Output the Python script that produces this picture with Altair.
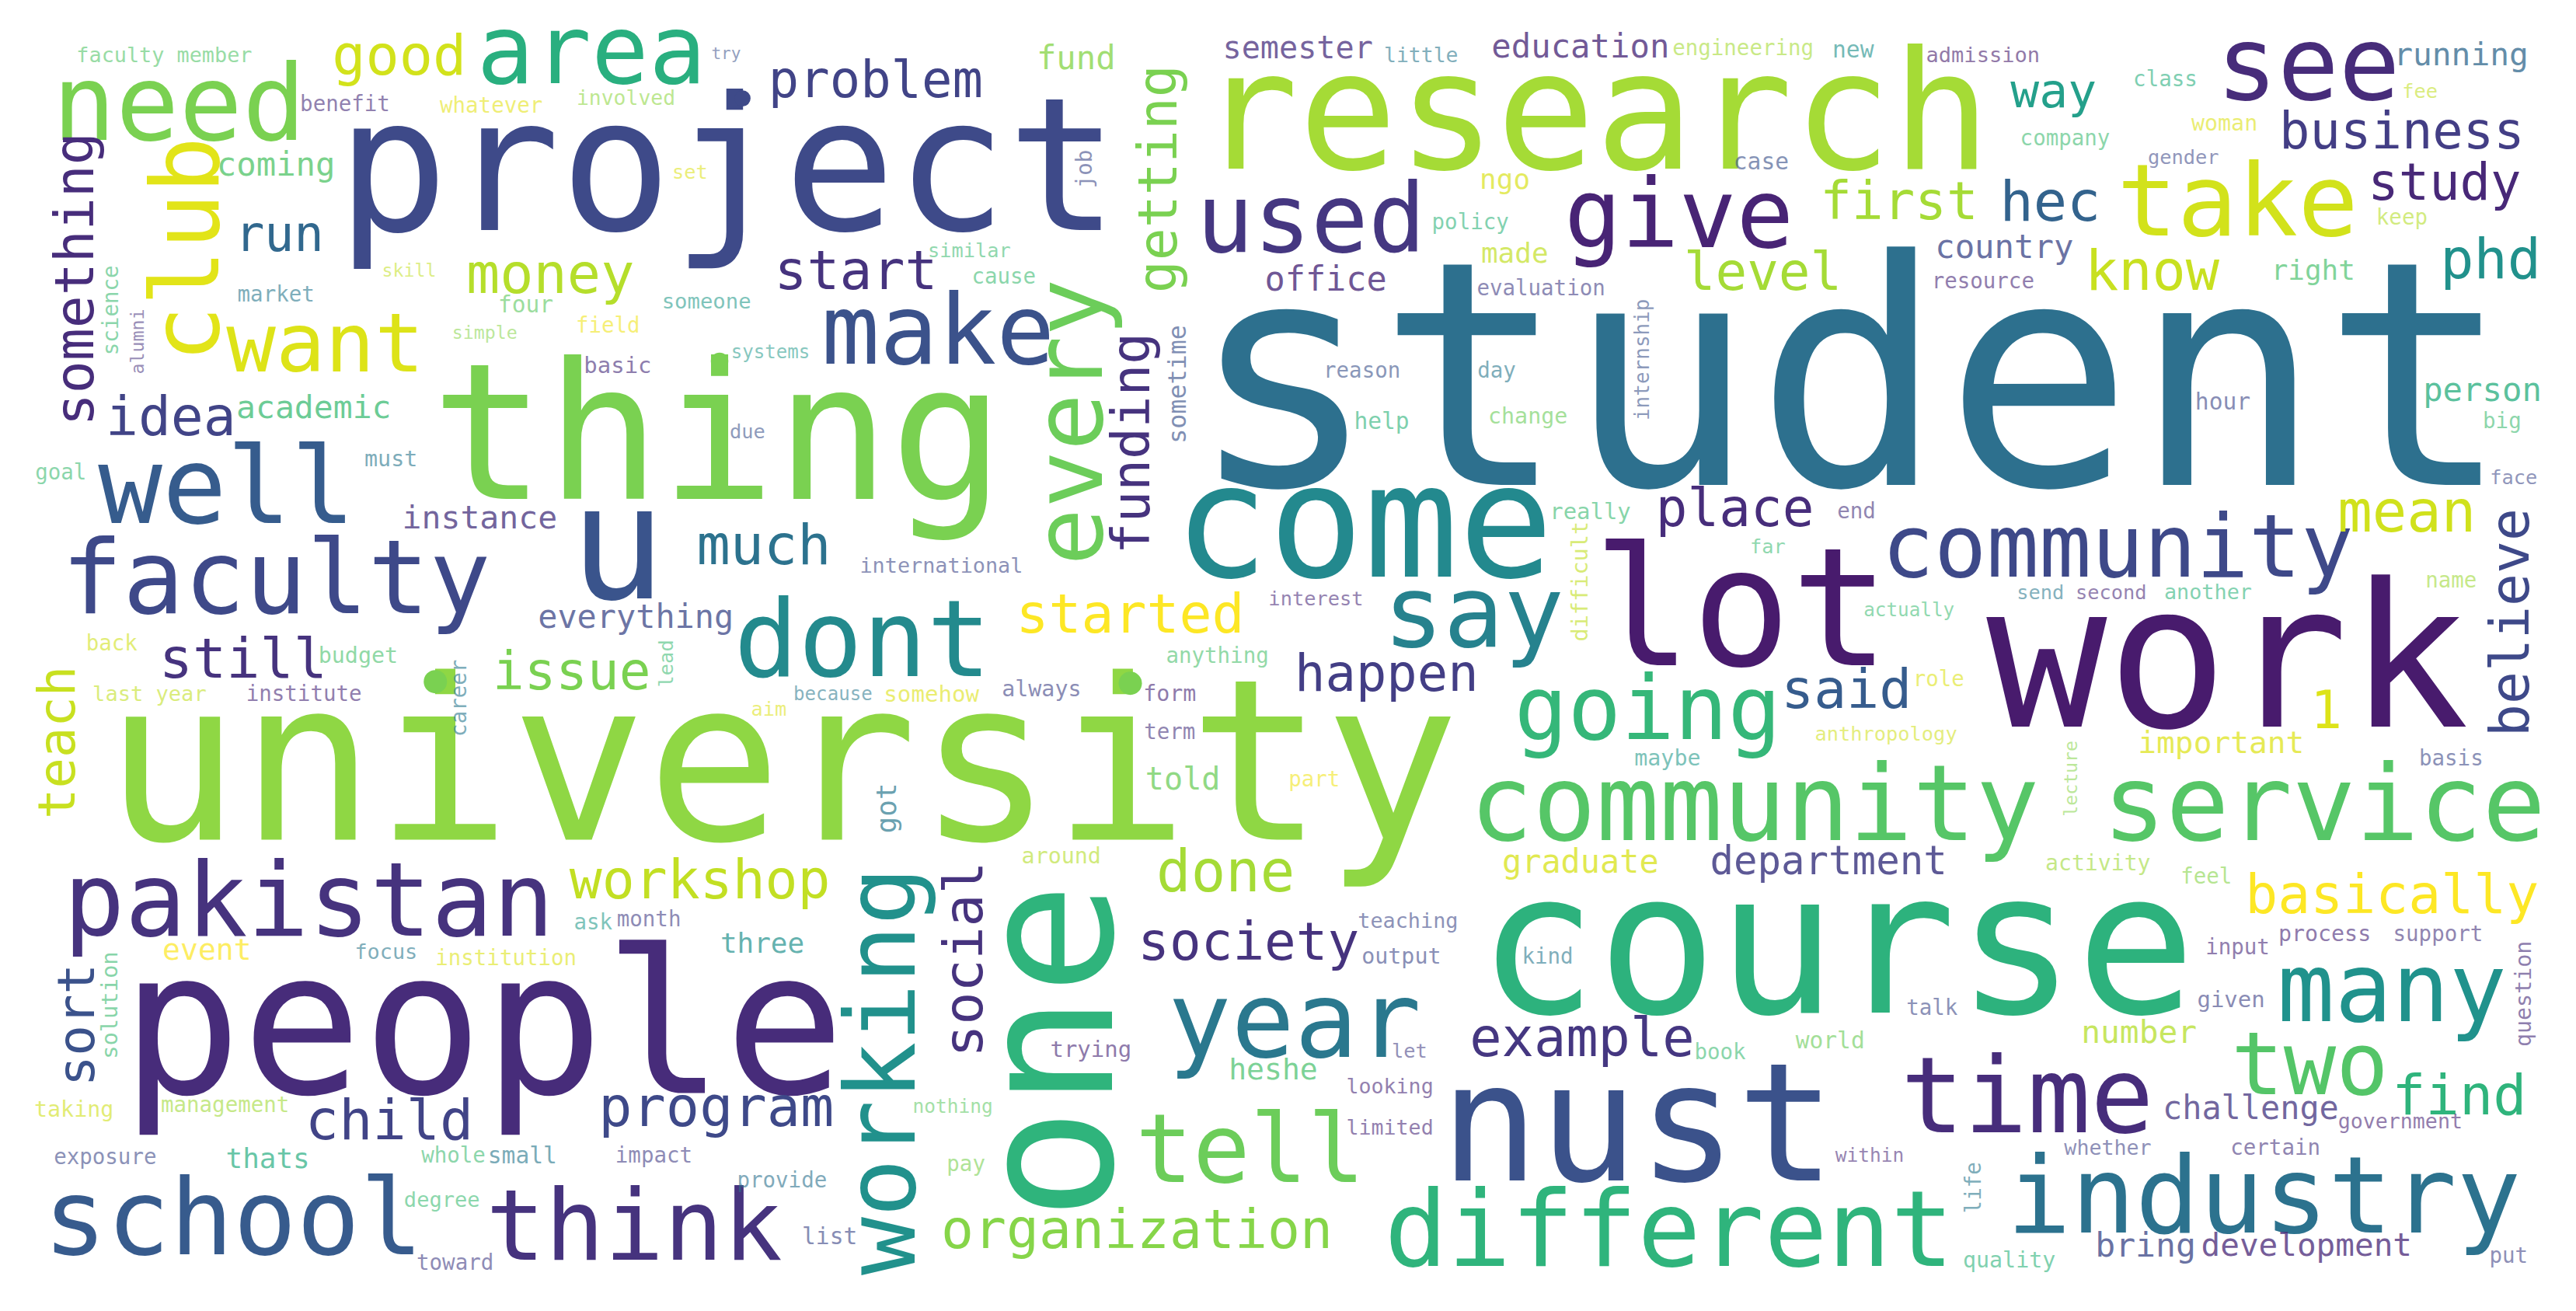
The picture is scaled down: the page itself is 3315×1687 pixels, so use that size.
import math
import altair as alt
import pandas as pd

# Word cloud.
# Each entry: (word, x, y, size, angle, colour); x / y are the word's centre in the
# picture's own frame (1568 x 798 units), size is the font em in the same units.

words_large = [
    ("student", 1126, 236, 191, 0, "#2d708e"),
    ("university", 476, 468, 137, 0, "#8fd744"),
    ("people", 294, 627, 122, 0, "#472c7a"),
    ("course", 1118, 578, 121, 0, "#2db27d"),
    ("work", 1356, 404, 122, 0, "#481b6d"),
    ("thing", 437, 267, 116, 0, "#7ad151"),
    ("project", 443, 104, 113, 0, "#3e4a89"),
    ("one", 643, 638, 114, 270, "#2fb47c"),
    ("research", 971, 71, 100, 0, "#a5db36"),
    ("lot", 1060, 373, 100, 0, "#481b6d"),
    ("nust", 997, 687, 100, 0, "#3b528b"),
    ("come", 830, 320, 96, 0, "#23898e"),
    ("u", 376, 333, 97, 0, "#3a548c"),
]

words_big = [
    ("well", 138, 297, 65, 0, "#365c8d"),
    ("faculty", 168, 353, 62, 0, "#3e4989"),
    ("school", 142, 742, 64, 0, "#375b8d"),
    ("pakistan", 188, 549, 62, 0, "#46337e"),
    ("think", 386, 747, 60, 0, "#46337e"),
    ("industry", 1378, 729, 65, 0, "#2c728e"),
    ("different", 1016, 749, 64, 0, "#2fb47c"),
    ("community service", 1222, 490, 64, 0, "#56c667"),
    ("community", 1289, 333, 53, 0, "#3e4989"),
    ("time", 1234, 668, 64, 0, "#472d7b"),
    ("year", 788, 622, 64, 0, "#2a788e"),
    ("tell", 761, 700, 58, 0, "#6ccd5a"),
    ("many", 1456, 602, 58, 0, "#20928c"),
    ("two", 1406, 648, 53, 0, "#54c568"),
    ("dont", 525, 390, 65, 0, "#238a8d"),
    ("say", 897, 373, 61, 0, "#26828e"),
    ("going", 1003, 432, 54, 0, "#35b779"),
    ("working", 539, 650, 59, 270, "#21918c"),
    ("used", 798, 134, 58, 0, "#453781"),
    ("give", 1022, 131, 58, 0, "#482475"),
    ("take", 1362, 123, 61, 0, "#d2e21b"),
    ("see", 1405, 40, 62, 0, "#472c7a"),
    ("need", 109, 64, 64, 0, "#7ad151"),
    ("area", 360, 31, 58, 0, "#29af7f"),
    ("want", 198, 209, 50, 0, "#dde318"),
    ("club", 116, 150, 57, 270, "#e2e418"),
    ("make", 571, 202, 59, 0, "#3b528b"),
    ("every", 653, 255, 58, 270, "#6ccd5a"),
]

words_medium = [
    ("something", 47, 168, 33, 270, "#472d7b"),
    ("getting", 706, 107, 33, 270, "#7ad151"),
    ("funding", 690, 268, 32, 270, "#46337e"),
    ("problem", 533, 48, 31, 0, "#414487"),
    ("start", 521, 164, 33, 0, "#46337e"),
    ("much", 465, 331, 34, 0, "#2c728e"),
    ("started", 688, 373, 33, 0, "#fde725"),
    ("still", 148, 400, 34, 0, "#46337e"),
    ("issue", 348, 408, 32, 0, "#7ad151"),
    ("teach", 36, 450, 31, 270, "#c8e020"),
    ("money", 335, 166, 34, 0, "#b5de2b"),
    ("run", 170, 142, 30, 0, "#31688e"),
    ("idea", 104, 253, 33, 0, "#414487"),
    ("good", 243, 33, 34, 0, "#d2e21b"),
    ("sort", 48, 622, 31, 270, "#3b528b"),
    ("child", 237, 681, 34, 0, "#414487"),
    ("program", 436, 673, 34, 0, "#3e4989"),
    ("workshop", 426, 535, 33, 0, "#c2df23"),
    ("social", 588, 582, 33, 270, "#46337e"),
    ("society", 760, 573, 32, 0, "#46337e"),
    ("done", 746, 530, 35, 0, "#a5db36"),
    ("organization", 692, 748, 33, 0, "#86d549"),
    ("example", 963, 631, 32.5, 0, "#453781"),
    ("happen", 844, 409, 31, 0, "#433e85"),
    ("said", 1124, 419, 33, 0, "#365c8d"),
    ("place", 1056, 309, 32, 0, "#472d7b"),
    ("mean", 1465, 311, 35, 0, "#d0e11c"),
    ("believe", 1529, 377, 33, 270, "#3e4989"),
    ("phd", 1516, 157, 34, 0, "#21918c"),
    ("know", 1310, 164, 34, 0, "#c8e020"),
    ("hec", 1248, 122, 34, 0, "#33638d"),
    ("level", 1073, 165, 32, 0, "#a5db36"),
    ("first", 1156, 122, 32, 0, "#a5db36"),
    ("way", 1250, 55, 29, 0, "#1f9e89"),
    ("business", 1462, 79, 31, 0, "#433e85"),
    ("study", 1488, 110, 31, 0, "#482878"),
    ("basically", 1456, 544, 33, 0, "#fde725"),
    ("find", 1497, 666, 34, 0, "#2fb47c"),
    ("1", 1416, 432, 32, 0, "#dde318"),
]

words_small = [
    ("semester", 790, 28, 19, 0, "#472f7d"),
    ("education", 962, 27, 20, 0, "#482878"),
    ("running", 1498, 32, 19.5, 0, "#31688e"),
    ("office", 807, 169, 20.6, 0, "#482878"),
    ("country", 1220, 149, 20, 0, "#3e4989"),
    ("right", 1408, 163, 17, 0, "#4ac16d"),
    ("coming", 168, 99, 20, 0, "#52c569"),
    ("academic", 191, 247, 19.6, 0, "#3dbc74"),
    ("event", 126, 577, 18, 0, "#fde725"),
    ("thats", 163, 704, 17, 0, "#26ad81"),
    ("three", 464, 573, 17, 0, "#21918c"),
    ("heshe", 775, 650, 18, 0, "#4ac16d"),
    ("told", 720, 473, 19, 0, "#6ccd5a"),
    ("graduate", 962, 523, 19.8, 0, "#d8e219"),
    ("department", 1113, 523, 24, 0, "#433e85"),
    ("everything", 387, 374, 19.8, 0, "#3e4989"),
    ("instance", 292, 314, 19.6, 0, "#46337e"),
    ("number", 1302, 627, 19.5, 0, "#b5de2b"),
    ("challenge", 1370, 673, 19.8, 0, "#453781"),
    ("bring", 1306, 757, 20.4, 0, "#3e4989"),
    ("development", 1404, 757, 19.4, 0, "#482878"),
    ("important", 1352, 451, 18.7, 0, "#dde318"),
    ("person", 1511, 236, 20, 0, "#29af7f"),
    ("fund", 655, 34, 20, 0, "#86d549"),
    ("made", 922, 153, 17, 0, "#c2df23"),
    ("ngo", 916, 108, 17, 0, "#d8e219"),
    ("sometime", 717, 232, 15, 270, "#3b528b"),
    ("got", 540, 490, 17, 270, "#2a788e"),
]

words_tiny_top = [
    ("faculty member", 100, 32, 12.7, 0, "#52c569"),
    ("benefit", 210, 62, 13, 0, "#472d7b"),
    ("whatever", 299, 63, 13, 0, "#e5e419"),
    ("involved", 381, 58, 12.5, 0, "#8fd744"),
    ("try", 442, 31, 10, 0, "#3b528b"),
    ("little", 865, 32, 12.5, 0, "#2a788e"),
    ("engineering", 1061, 28, 13, 0, "#a5db36"),
    ("new", 1128, 29, 14, 0, "#21918c"),
    ("admission", 1207, 32, 12.8, 0, "#481c6e"),
    ("class", 1318, 47, 13, 0, "#29af7f"),
    ("fee", 1473, 54, 12, 0, "#c2df23"),
    ("woman", 1354, 74, 13.4, 0, "#dde318"),
    ("company", 1257, 83, 13, 0, "#3fbc73"),
    ("gender", 1329, 94, 12, 0, "#3e4989"),
    ("keep", 1462, 131, 13, 0, "#b5de2b"),
    ("case", 1072, 97, 14, 0, "#3b528b"),
    ("policy", 895, 134, 13, 0, "#2fb47c"),
    ("evaluation", 938, 174, 13, 0, "#433e85"),
    ("resource", 1207, 170, 13, 0, "#482878"),
    ("reason", 829, 224, 13, 0, "#3b528b"),
    ("day", 911, 224, 13, 0, "#2a788e"),
    ("internship", 1000, 217, 12.3, 270, "#3b528b"),
    ("help", 841, 255, 14, 0, "#2fb47c"),
    ("change", 930, 252, 13.4, 0, "#6ccd5a"),
    ("hour", 1353, 243, 14, 0, "#3e4989"),
    ("big", 1523, 255, 13, 0, "#3fbc73"),
    ("skill", 249, 163, 11, 0, "#c2df23"),
    ("market", 168, 178, 13, 0, "#2a788e"),
    ("four", 320, 184, 14, 0, "#5ec962"),
    ("field", 370, 197, 13, 0, "#f1e51d"),
    ("simple", 295, 201, 11, 0, "#86d549"),
    ("basic", 376, 221, 13.7, 0, "#472d7b"),
    ("science", 68, 187, 13, 270, "#3dbc74"),
    ("alumni", 84, 206, 11, 270, "#46337e"),
    ("set", 420, 103, 12, 0, "#dde318"),
    ("similar", 590, 151, 12, 0, "#3fbc73"),
    ("cause", 611, 167, 13, 0, "#3dbc74"),
    ("someone", 430, 182, 12.9, 0, "#2a9d8e"),
    ("systems", 469, 213, 11.4, 0, "#2a9d8e"),
    ("due", 455, 261, 12, 0, "#3b528b"),
    ("job", 661, 101, 13, 270, "#3e4989"),
]

words_tiny_mid = [
    ("must", 238, 278, 13.4, 0, "#2a788e"),
    ("goal", 37, 286, 13, 0, "#3dbc74"),
    ("back", 68, 390, 13, 0, "#d0e11c"),
    ("budget", 218, 398, 13.4, 0, "#4ac16d"),
    ("last year", 91, 421, 12.8, 0, "#c2df23"),
    ("institute", 185, 421, 13, 0, "#482878"),
    ("career", 280, 423, 13, 270, "#2a788e"),
    ("lead", 406, 402, 12, 270, "#3dbc74"),
    ("international", 573, 343, 12.7, 0, "#3e4989"),
    ("interest", 801, 363, 12, 0, "#482878"),
    ("really", 968, 310, 13.7, 0, "#3dbc74"),
    ("end", 1130, 310, 13, 0, "#46337e"),
    ("far", 1076, 331, 12, 0, "#3dbc74"),
    ("difficult", 962, 352, 13.5, 270, "#c2df23"),
    ("actually", 1162, 370, 11.5, 0, "#3dbc74"),
    ("because", 507, 421, 11.4, 0, "#2a788e"),
    ("somehow", 567, 421, 13.8, 0, "#dde318"),
    ("always", 634, 418, 13.4, 0, "#414487"),
    ("form", 712, 421, 13.4, 0, "#482878"),
    ("term", 712, 444, 13, 0, "#46337e"),
    ("aim", 468, 430, 12, 0, "#dde318"),
    ("anything", 741, 398, 13, 0, "#4ac16d"),
    ("around", 646, 520, 13.4, 0, "#b5de2b"),
    ("role", 1180, 412, 13, 0, "#dde318"),
    ("anthropology", 1148, 445, 12, 0, "#d0e11c"),
    ("maybe", 1015, 460, 13.4, 0, "#2a9d8e"),
    ("part", 800, 473, 13, 0, "#f1e51d"),
    ("lecture", 1261, 472, 11, 270, "#86d549"),
    ("basis", 1492, 460, 13, 0, "#3e4989"),
    ("activity", 1277, 524, 13.3, 0, "#a0da39"),
    ("face", 1530, 289, 12, 0, "#3e4989"),
    ("send", 1242, 359, 12, 0, "#2a788e"),
    ("second", 1285, 359, 12, 0, "#482878"),
    ("another", 1344, 359, 12.7, 0, "#2fb47c"),
    ("name", 1492, 352, 13, 0, "#a0da39"),
]

words_tiny_low = [
    ("feel", 1343, 532, 13, 0, "#86d549"),
    ("input", 1362, 575, 13, 0, "#482878"),
    ("process", 1415, 567, 13.4, 0, "#482878"),
    ("support", 1484, 567, 13, 0, "#46337e"),
    ("given", 1358, 607, 13.7, 0, "#414487"),
    ("question", 1537, 603, 13.4, 270, "#472d7b"),
    ("talk", 1176, 612, 13, 0, "#3e4989"),
    ("government", 1461, 681, 12.6, 0, "#482475"),
    ("whether", 1283, 697, 12.6, 0, "#414487"),
    ("certain", 1385, 697, 13, 0, "#46337e"),
    ("life", 1202, 721, 13, 270, "#2a788e"),
    ("quality", 1223, 766, 13.4, 0, "#2fb47c"),
    ("put", 1527, 763, 13, 0, "#414487"),
    ("teaching", 857, 559, 12.7, 0, "#3e4989"),
    ("output", 853, 581, 13.4, 0, "#3e4989"),
    ("kind", 942, 581, 13, 0, "#2a788e"),
    ("let", 858, 638, 12, 0, "#433e85"),
    ("book", 1047, 639, 13, 0, "#3dbc74"),
    ("world", 1114, 632, 14, 0, "#6ccd5a"),
    ("looking", 846, 660, 12.6, 0, "#482878"),
    ("limited", 846, 685, 12.6, 0, "#482878"),
    ("within", 1138, 702, 11.6, 0, "#482878"),
    ("ask", 361, 560, 13, 0, "#2a9d8e"),
    ("month", 395, 558, 13, 0, "#433e85"),
    ("focus", 235, 578, 12.7, 0, "#2a788e"),
    ("institution", 308, 582, 13, 0, "#dde318"),
    ("solution", 67, 610, 13.6, 270, "#3dbc74"),
    ("taking", 45, 674, 13.4, 0, "#d0e11c"),
    ("management", 137, 671, 13, 0, "#a0da39"),
    ("exposure", 64, 703, 13, 0, "#3e4989"),
    ("whole", 276, 702, 13, 0, "#3fbc73"),
    ("small", 318, 702, 14, 0, "#2a788e"),
    ("impact", 398, 702, 13, 0, "#433e85"),
    ("degree", 269, 729, 12.8, 0, "#3dbc74"),
    ("toward", 277, 767, 13, 0, "#433e85"),
    ("trying", 664, 637, 13.7, 0, "#482878"),
    ("nothing", 580, 672, 11.6, 0, "#5ec962"),
    ("pay", 588, 707, 13, 0, "#7ad151"),
    ("provide", 476, 717, 13, 0, "#2c728e"),
    ("list", 505, 751, 14, 0, "#3e4989"),
]

# round dots in the cloud: (x, y, diameter, colour)
dots = [
    (452, 58, 11, "#3e4a89"),
    (265, 413, 16, "#7ad151"),
    (688, 414, 16, "#7ad151"),
    (438, 218, 12, "#7ad151"),
]

all_words = (words_large + words_big + words_medium + words_small
             + words_tiny_top + words_tiny_mid + words_tiny_low)
df = pd.DataFrame(all_words, columns=["word", "x", "y", "em", "angle", "color"])
dot_df = pd.DataFrame(dots, columns=["x", "y", "d", "color"])

K = 3315 / 1568          # picture units -> screen pixels
PAD = 8                  # page margin
W, H = 3295, 1665

x_scale = alt.Scale(domain=[PAD / K, (PAD + W) / K], range=[0, W], nice=False, zero=False)
y_scale = alt.Scale(domain=[PAD / K, (PAD + H) / K], range=[0, H], nice=False, zero=False)

text = alt.Chart(df).mark_text(
    align="center", baseline="middle", font="DejaVu Sans Mono"
).encode(
    x=alt.X("x:Q", scale=x_scale, axis=None),
    y=alt.Y("y:Q", scale=y_scale, axis=None),
    text="word:N",
    size=alt.Size("em:Q", scale=alt.Scale(type="linear", domain=[0, 100], range=[0, 100 * K]), legend=None),
    angle=alt.Angle("angle:Q", scale=None),
    color=alt.Color("color:N", scale=None),
    opacity=alt.Opacity("em:Q", scale=alt.Scale(domain=[11, 30], range=[0.55, 1], clamp=True), legend=None),
)

circles = alt.Chart(dot_df).mark_circle(opacity=1).encode(
    x=alt.X("x:Q", scale=x_scale, axis=None),
    y=alt.Y("y:Q", scale=y_scale, axis=None),
    size=alt.Size("d:Q", scale=alt.Scale(type="pow", exponent=2, domain=[0, 100],
                                         range=[0, math.pi / 4 * (100 * K) ** 2]), legend=None),
    color=alt.Color("color:N", scale=None),
)

chart = alt.layer(text, circles).resolve_scale(
    size="independent", opacity="independent"
).properties(
    width=W, height=H, padding=0, background="white"
).configure_view(strokeWidth=0)

chart.save("out.html", embed_options={"renderer": "svg", "actions": False})
